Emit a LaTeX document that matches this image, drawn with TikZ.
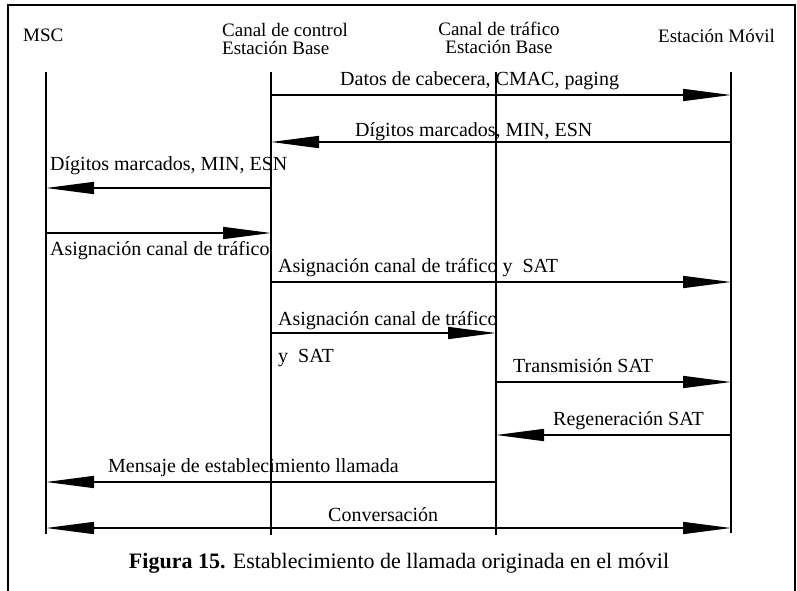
\documentclass[tikz,border=0pt]{standalone}
\usepackage{fontspec}
\setmainfont{Liberation Serif}
\usetikzlibrary{arrows.meta}

\begin{document}
\begin{tikzpicture}[x=1pt, y=-1pt,
    every node/.style={inner sep=0pt, font=\fontsize{20}{17}\selectfont},
    head/.style={font=\fontsize{19}{18}\selectfont},
    life/.style={line width=2.4pt},
    msg/.style={line width=1.6pt, -{Triangle[length=48pt, width=12pt]}},
    both/.style={line width=1.6pt, {Triangle[length=48pt, width=12pt]}-{Triangle[length=48pt, width=12pt]}},
    frame/.style={line width=1.2pt}]
    \useasboundingbox (0,0) rectangle (797,591);
    \draw[frame] (8,591) -- (8,5) -- (795,5) -- (795,591);

    % cabeceras
    \node[head, anchor=base west] (msclbl) at (23,42) {MSC};
    \node[head, anchor=north west, align=left] (ctrllbl) at (222,23) {Canal de control\\Estación Base};
    \node[head, anchor=north, align=center] (traflbl) at (499,22) {Canal de tráfico\\Estación Base};
    \node[head, anchor=base west] (movlbl) at (658,43) {Estación Móvil};

    % lineas de vida
    \coordinate (msc) at (46,72);
    \coordinate (ctrl) at (271,72);
    \coordinate (traf) at (496,72);
    \coordinate (mov) at (731,72);
    \coordinate (msc-end) at (46,534);
    \coordinate (ctrl-end) at (271,535);
    \coordinate (traf-end) at (496,535);
    \coordinate (mov-end) at (731,533);
    \draw[life] (msc) -- (msc-end);
    \draw[life] (ctrl) -- (ctrl-end);
    \draw[life] (traf) -- (traf-end);
    \draw[life] (mov) -- (mov-end);

    % filas de mensajes
    \coordinate (r1) at (0,95);
    \coordinate (r2) at (0,142);
    \coordinate (r3) at (0,188);
    \coordinate (r4) at (0,233);
    \coordinate (r5) at (0,282);
    \coordinate (r6) at (0,333);
    \coordinate (r7) at (0,382);
    \coordinate (r8) at (0,435);
    \coordinate (r9) at (0,482);
    \coordinate (r10) at (0,528);

    \draw[msg] (ctrl |- r1) -- (mov |- r1);
    \node[anchor=base west] (lbl1) at (340,86) {Datos de cabecera, CMAC, paging};

    \draw[msg] (mov |- r2) -- (ctrl |- r2);
    \node[anchor=base west] (lbl2) at (355,136) {Dígitos marcados, MIN, ESN};

    \draw[msg] (ctrl |- r3) -- (msc |- r3);
    \node[anchor=base west] (lbl3) at (50,170) {Dígitos marcados, MIN, ESN};

    \draw[msg] (msc |- r4) -- (ctrl |- r4);
    \node[anchor=base west] (lbl4) at (50,255) {Asignación canal de tráfico};

    \draw[msg] (ctrl |- r5) -- (mov |- r5);
    \node[anchor=base west] (lbl5) at (278,272) {Asignación canal de tráfico y\ \ SAT};

    \draw[msg] (ctrl |- r6) -- (traf |- r6);
    \node[anchor=base west] (lbl6) at (278,325) {Asignación canal de tráfico};
    \node[anchor=base west] (lbl6b) at (278,362) {y\ \ SAT};

    \draw[msg] (traf |- r7) -- (mov |- r7);
    \node[anchor=base west] (lbl7) at (513,372) {Transmisión SAT};

    \draw[msg] (mov |- r8) -- (traf |- r8);
    \node[anchor=base west] (lbl8) at (553,425) {Regeneración SAT};

    \draw[msg] (traf |- r9) -- (msc |- r9);
    \node[anchor=base west] (lbl9) at (108,472) {Mensaje de establecimiento llamada};

    \draw[both] (msc |- r10) -- (mov |- r10);
    \node[anchor=base west] (lbl10) at (328,521) {Conversación};

    % pie de figura
    \node[anchor=base, font=\fontsize{22}{24}\selectfont] (caption) at (399,568)
        {\textbf{Figura 15.} Establecimiento de llamada originada en el móvil};
\end{tikzpicture}
\end{document}
